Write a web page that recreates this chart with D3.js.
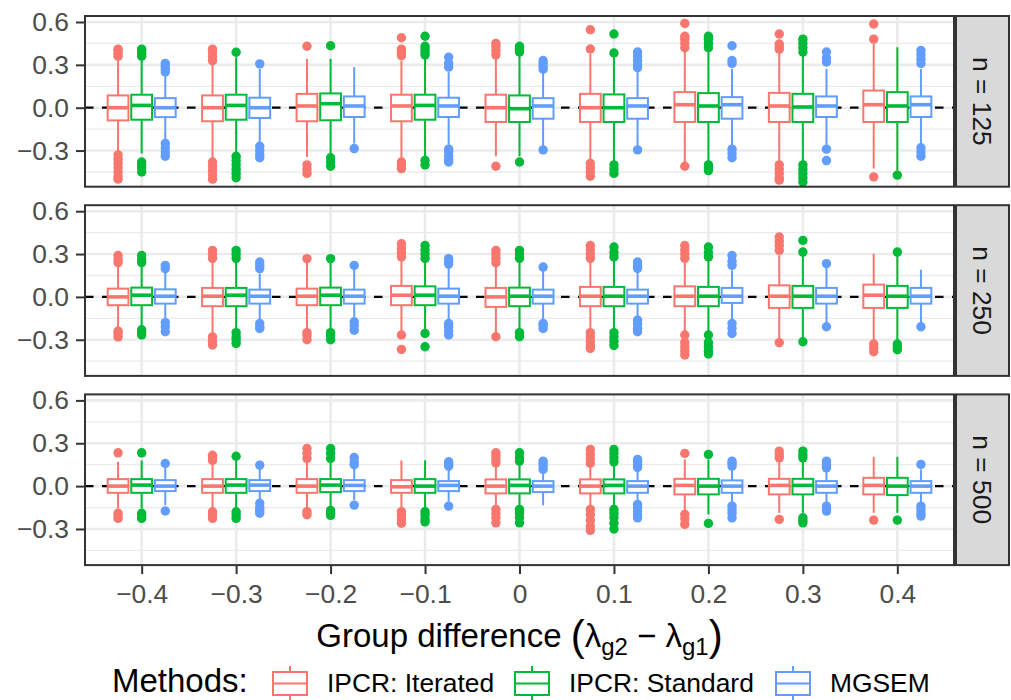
<!DOCTYPE html>
<html>
<head>
<meta charset="utf-8">
<script src="https://cdn.jsdelivr.net/npm/d3@7"></script>
<style>
  html, body { margin: 0; padding: 0; background: #fff; }
  svg { display: block; font-family: "Liberation Sans", Arial, sans-serif; }
</style>
</head>
<body>
<svg id="chart" width="1011" height="700"></svg>
<script>
// ---------------- DATA ----------------
const categories = ["\u22120.4", "\u22120.3", "\u22120.2", "\u22120.1", "0", "0.1", "0.2", "0.3", "0.4"];
const methods = ["IPCR: Iterated", "IPCR: Standard", "MGSEM"];
const panelLabels = ["n = 125", "n = 250", "n = 500"];
const yTicks = [-0.3, 0, 0.3, 0.6];
const yTickLabels = ["\u22120.3", "0.0", "0.3", "0.6"];
const yMinorTicks = [-0.45, -0.15, 0.15, 0.45];

// box stats per category: [lower whisker, q1, median, q3, upper whisker]
// ---- n = 125 ----
const n125_iter = [
  [-0.31, -0.089, 0, 0.086, 0.34], [-0.356, -0.095, 0, 0.086, 0.307], [-0.345, -0.095, 0.012, 0.097, 0.342],
  [-0.356, -0.095, 0.012, 0.091, 0.33], [-0.34, -0.1, 0, 0.091, 0.353], [-0.379, -0.1, 0, 0.097, 0.376],
  [-0.38, -0.1, 0.021, 0.109, 0.411], [-0.379, -0.1, 0.012, 0.104, 0.388], [-0.426, -0.1, 0.021, 0.12, 0.446]];
const n125_iter_out = [
  [0.36, 0.38, 0.40, 0.41, -0.33, -0.36, -0.39, -0.42, -0.45, -0.48, -0.50],
  [0.33, 0.36, 0.39, 0.41, -0.38, -0.41, -0.44, -0.47, -0.50],
  [0.43, -0.40, -0.43, -0.46],
  [0.49, 0.365, 0.39, 0.41, -0.38, -0.40, -0.426],
  [0.37, 0.40, 0.43, 0.45, -0.41],
  [0.546, 0.411, -0.39, -0.42, -0.45, -0.48],
  [0.59, 0.42, 0.45, 0.48, 0.50, -0.41],
  [0.516, 0.41, 0.43, 0.446, -0.40, -0.43, -0.46, -0.49, -0.507],
  [0.586, 0.48, -0.484]];
const n125_std = [
  [-0.32, -0.084, 0.016, 0.091, 0.34], [-0.32, -0.084, 0.016, 0.091, 0.353], [-0.32, -0.088, 0.028, 0.1, 0.342],
  [-0.34, -0.084, 0.016, 0.091, 0.353], [-0.34, -0.1, -0.007, 0.086, 0.365], [-0.379, -0.1, 0, 0.093, 0.353],
  [-0.38, -0.1, 0.012, 0.102, 0.388], [-0.38, -0.1, 0.005, 0.097, 0.365], [-0.44, -0.1, 0.012, 0.109, 0.423]];
const n125_std_out = [
  [0.36, 0.38, 0.40, 0.41, -0.38, -0.40, -0.42, -0.45],
  [0.388, -0.34, -0.37, -0.40, -0.43, -0.46, -0.49],
  [0.434, -0.35, -0.38, -0.41],
  [0.50, 0.37, 0.39, 0.41, 0.43, -0.37, -0.40],
  [0.39, 0.41, 0.43, -0.38],
  [0.516, 0.383, -0.40, -0.43, -0.46],
  [0.42, 0.45, 0.48, 0.50, -0.40, -0.42, -0.44],
  [0.39, 0.42, 0.45, 0.48, -0.40, -0.43, -0.46, -0.49, -0.52],
  [-0.472]];
const n125_mg = [
  [-0.23, -0.066, 0, 0.067, 0.225], [-0.251, -0.072, 0, 0.07, 0.272], [-0.251, -0.065, 0.012, 0.079, 0.284],
  [-0.26, -0.065, 0.012, 0.07, 0.249], [-0.27, -0.077, 0.012, 0.067, 0.249], [-0.27, -0.077, 0.012, 0.067, 0.249],
  [-0.26, -0.077, 0.021, 0.074, 0.272], [-0.26, -0.065, 0.012, 0.079, 0.272], [-0.26, -0.065, 0.021, 0.079, 0.272]];
const n125_mg_out = [
  [0.25, 0.27, 0.29, 0.31, -0.25, -0.28, -0.31, -0.34],
  [0.307, -0.27, -0.30, -0.33, -0.35],
  [-0.286],
  [0.284, 0.31, 0.353, -0.29, -0.31, -0.34, -0.36, -0.38],
  [0.27, 0.29, 0.31, 0.33, -0.295],
  [0.28, 0.30, 0.33, 0.36, 0.39, -0.295],
  [0.434, 0.31, 0.33, -0.29, -0.32, -0.35],
  [0.32, 0.35, 0.39, -0.29, -0.37],
  [0.31, 0.34, 0.37, 0.40, -0.28, -0.31, -0.34]];

// ---- n = 250 ----
const n250_iter = [
  [-0.22, -0.058, 0, 0.058, 0.221], [-0.256, -0.065, 0.005, 0.063, 0.244], [-0.233, -0.058, 0.005, 0.058, 0.244],
  [-0.244, -0.058, 0.012, 0.077, 0.256], [-0.256, -0.07, 0, 0.063, 0.221], [-0.233, -0.065, 0.005, 0.07, 0.256],
  [-0.244, -0.065, 0.005, 0.074, 0.256], [-0.291, -0.077, 0.005, 0.081, 0.291], [-0.302, -0.077, 0.012, 0.086, 0.302]];
const n250_iter_out = [
  [0.24, 0.26, 0.29, -0.24, -0.26, -0.28],
  [0.27, 0.30, 0.326, -0.28, -0.31, -0.337],
  [0.268, -0.25, -0.27, -0.30],
  [0.28, 0.31, 0.34, 0.372, -0.267, -0.367],
  [0.24, 0.27, 0.30, 0.326, -0.279],
  [0.27, 0.30, 0.33, 0.36, -0.25, -0.28, -0.31, -0.34, -0.36],
  [0.27, 0.30, 0.33, 0.36, -0.267, -0.32, -0.35, -0.38, -0.407],
  [0.326, 0.36, 0.39, 0.419, -0.32],
  [-0.33, -0.36, -0.384]];
const n250_std = [
  [-0.209, -0.058, 0.012, 0.065, 0.221], [-0.233, -0.065, 0.012, 0.063, 0.244], [-0.233, -0.058, 0.012, 0.065, 0.244],
  [-0.233, -0.058, 0.012, 0.074, 0.256], [-0.233, -0.065, 0.005, 0.065, 0.244], [-0.233, -0.065, 0.005, 0.07, 0.256],
  [-0.244, -0.065, 0.005, 0.07, 0.256], [-0.291, -0.077, 0.005, 0.077, 0.291], [-0.314, -0.077, 0.005, 0.077, 0.291]];
const n250_std_out = [
  [0.24, 0.26, 0.29, -0.23, -0.25, -0.267],
  [0.27, 0.30, 0.326, -0.25, -0.28, -0.30, -0.326],
  [0.268, -0.25, -0.27, -0.30],
  [0.27, 0.30, 0.33, 0.36, -0.256, -0.349],
  [0.27, 0.30, 0.326, -0.25, -0.279],
  [0.28, 0.31, 0.349, -0.25, -0.28, -0.31, -0.34],
  [0.28, 0.31, 0.349, -0.267, -0.32, -0.35, -0.38, -0.40],
  [0.314, 0.396, -0.314],
  [0.314, -0.33, -0.35, -0.37]];
const n250_mg = [
  [-0.163, -0.047, 0.005, 0.053, 0.186], [-0.163, -0.047, 0.005, 0.051, 0.163], [-0.14, -0.047, 0.005, 0.051, 0.198],
  [-0.174, -0.047, 0.005, 0.058, 0.209], [-0.163, -0.047, 0.005, 0.051, 0.186], [-0.151, -0.047, 0.005, 0.051, 0.186],
  [-0.163, -0.042, 0.005, 0.063, 0.186], [-0.186, -0.047, 0.005, 0.063, 0.209], [-0.186, -0.047, 0.005, 0.063, 0.19]];
const n250_mg_out = [
  [0.198, 0.221, -0.18, -0.21, -0.244],
  [0.198, 0.221, 0.244, -0.186, -0.21, -0.221],
  [0.221, -0.174, -0.20, -0.233],
  [0.23, 0.25, 0.268, -0.186, -0.21, -0.24, -0.267],
  [0.209, -0.186, -0.20, -0.221],
  [0.20, 0.22, 0.244, -0.163, -0.19, -0.22, -0.244],
  [0.221, 0.25, 0.29, -0.186, -0.22, -0.256],
  [0.233, -0.209],
  [-0.209]];

// ---- n = 500 ----
const n500_iter = [
  [-0.156, -0.047, 0, 0.049, 0.17], [-0.156, -0.047, 0, 0.049, 0.17], [-0.156, -0.047, 0, 0.049, 0.17],
  [-0.156, -0.047, -0.005, 0.042, 0.18], [-0.152, -0.051, 0, 0.047, 0.14], [-0.152, -0.051, 0, 0.047, 0.14],
  [-0.175, -0.058, 0.005, 0.051, 0.187], [-0.187, -0.058, 0.005, 0.051, 0.175], [-0.187, -0.058, 0.005, 0.058, 0.205]];
const n500_iter_out = [
  [0.233, -0.19, -0.21, -0.226],
  [0.18, 0.20, 0.216, -0.18, -0.20, -0.226],
  [0.193, 0.23, 0.263, -0.179, -0.20],
  [-0.179, -0.20, -0.23, -0.26],
  [0.163, 0.19, 0.21, 0.233, -0.163, -0.19, -0.22, -0.257],
  [0.16, 0.19, 0.22, 0.257, -0.163, -0.20, -0.24, -0.28, -0.31],
  [0.229, -0.198, -0.23, -0.268],
  [0.198, 0.22, 0.245, -0.233],
  [-0.238]];
const n500_std = [
  [-0.156, -0.047, 0.007, 0.049, 0.18], [-0.156, -0.047, 0.007, 0.049, 0.18], [-0.156, -0.042, 0.007, 0.049, 0.18],
  [-0.156, -0.047, 0, 0.049, 0.18], [-0.152, -0.051, 0.005, 0.047, 0.152], [-0.152, -0.051, 0.005, 0.047, 0.152],
  [-0.198, -0.058, 0, 0.051, 0.187], [-0.187, -0.058, 0.005, 0.051, 0.175], [-0.187, -0.063, 0, 0.058, 0.205]];
const n500_std_out = [
  [0.233, -0.19, -0.21, -0.226],
  [0.209, -0.18, -0.20, -0.226],
  [0.193, 0.23, 0.263, -0.17, -0.19, -0.205],
  [-0.179, -0.20, -0.23, -0.25],
  [0.175, 0.20, 0.233, -0.163, -0.19, -0.22, -0.257],
  [0.17, 0.20, 0.23, 0.257, -0.163, -0.19, -0.22, -0.26, -0.30],
  [0.222, -0.261],
  [0.198, 0.22, 0.245, -0.222, -0.24, -0.257],
  [-0.238]];
const n500_mg = [
  [-0.133, -0.035, 0, 0.042, 0.135], [-0.109, -0.035, 0.007, 0.042, 0.123], [-0.098, -0.035, 0.005, 0.042, 0.135],
  [-0.109, -0.035, 0.005, 0.035, 0.123], [-0.135, -0.042, 0, 0.035, 0.105], [-0.117, -0.047, 0, 0.035, 0.117],
  [-0.117, -0.047, 0, 0.04, 0.128], [-0.117, -0.047, 0, 0.035, 0.117], [-0.117, -0.047, 0, 0.035, 0.117]];
const n500_mg_out = [
  [0.158, -0.174],
  [0.147, -0.12, -0.15, -0.17, -0.19],
  [0.15, 0.17, 0.2, -0.133],
  [0.14, 0.155, 0.17, -0.14],
  [0.117, 0.14, 0.16, 0.175],
  [0.13, 0.15, 0.17, 0.187, -0.128, -0.15, -0.175, -0.2, -0.222],
  [0.14, 0.16, 0.175, -0.14, -0.165, -0.19, -0.222],
  [0.128, 0.15, 0.175, -0.14, -0.16, -0.175],
  [0.152, -0.14, -0.165, -0.19, -0.21]];

// ---------------- LAYOUT ----------------
const colors = ["#F8766D", "#00BA38", "#619CFF"];
const panelX0 = 85, panelX1 = 954;
const panelTops = [16, 205.2, 394.4];
const panelH = 170.7;
const stripX0 = 956, stripX1 = 1009;
const smallFont = 26.4, bigFont = 33;

const panels = [
  { stats: [n125_iter, n125_std, n125_mg], outs: [n125_iter_out, n125_std_out, n125_mg_out] },
  { stats: [n250_iter, n250_std, n250_mg], outs: [n250_iter_out, n250_std_out, n250_mg_out] },
  { stats: [n500_iter, n500_std, n500_mg], outs: [n500_iter_out, n500_std_out, n500_mg_out] }
];

const svg = d3.select("#chart");
const x = d3.scalePoint().domain(categories).range([panelX0, panelX1]).padding(0.6);
const step = x.step();
const dodge = step * 0.75 / 3;
const boxW = dodge * 0.88;
const y = d3.scaleLinear().domain([-0.553, 0.642]).range([panelH, 0]);

panels.forEach((p, pi) => {
  const g = svg.append("g").attr("transform", `translate(0,${panelTops[pi]})`);
  g.append("rect").attr("x", panelX0).attr("y", 0).attr("width", panelX1 - panelX0).attr("height", panelH).attr("fill", "#fff");
  // minor grid
  g.selectAll(".minor").data(yMinorTicks).join("line")
    .attr("x1", panelX0).attr("x2", panelX1).attr("y1", d => y(d)).attr("y2", d => y(d))
    .attr("stroke", "#EBEBEB").attr("stroke-width", 1.3);
  // major grid
  g.selectAll(".majorY").data(yTicks).join("line")
    .attr("x1", panelX0).attr("x2", panelX1).attr("y1", d => y(d)).attr("y2", d => y(d))
    .attr("stroke", "#EBEBEB").attr("stroke-width", 2.6);
  g.selectAll(".majorX").data(categories).join("line")
    .attr("x1", d => x(d)).attr("x2", d => x(d)).attr("y1", 0).attr("y2", panelH)
    .attr("stroke", "#EBEBEB").attr("stroke-width", 2.6);
  // dashed zero reference line
  g.append("line").attr("x1", panelX0).attr("x2", panelX1).attr("y1", y(0)).attr("y2", y(0))
    .attr("stroke", "#000").attr("stroke-width", 2.2).attr("stroke-dasharray", "8.5,8.5");

  // boxes
  methods.forEach((m, mi) => {
    const mg = g.append("g");
    const stats = p.stats[mi];
    const outs = p.outs[mi];
    const cx = (c) => x(c) + (mi - 1) * dodge;
    const rows = categories.map((c, ci) => ({ c, s: stats[ci], o: outs[ci] }));
    // whiskers
    mg.selectAll(".wh").data(rows).join("line")
      .attr("x1", d => cx(d.c)).attr("x2", d => cx(d.c))
      .attr("y1", d => y(d.s[4])).attr("y2", d => y(d.s[3]))
      .attr("stroke", colors[mi]).attr("stroke-width", 2);
    mg.selectAll(".wl").data(rows).join("line")
      .attr("x1", d => cx(d.c)).attr("x2", d => cx(d.c))
      .attr("y1", d => y(d.s[1])).attr("y2", d => y(d.s[0]))
      .attr("stroke", colors[mi]).attr("stroke-width", 2);
    // box
    mg.selectAll(".bx").data(rows).join("rect")
      .attr("x", d => cx(d.c) - boxW / 2).attr("width", boxW)
      .attr("y", d => y(d.s[3])).attr("height", d => y(d.s[1]) - y(d.s[3]))
      .attr("fill", "#fff").attr("stroke", colors[mi]).attr("stroke-width", 2);
    // median
    mg.selectAll(".md").data(rows).join("line")
      .attr("x1", d => cx(d.c) - boxW / 2).attr("x2", d => cx(d.c) + boxW / 2)
      .attr("y1", d => y(d.s[2])).attr("y2", d => y(d.s[2]))
      .attr("stroke", colors[mi]).attr("stroke-width", 3.6);
    // outliers
    const pts = [];
    rows.forEach(r => r.o.forEach(v => pts.push({ c: r.c, v })));
    mg.selectAll(".pt").data(pts).join("circle")
      .attr("cx", d => cx(d.c)).attr("cy", d => y(d.v)).attr("r", 4.7)
      .attr("fill", colors[mi]);
  });

  // panel border
  g.append("rect").attr("x", panelX0).attr("y", 0).attr("width", panelX1 - panelX0).attr("height", panelH)
    .attr("fill", "none").attr("stroke", "#333333").attr("stroke-width", 2);

  // strip
  g.append("rect").attr("x", stripX0).attr("y", 0).attr("width", stripX1 - stripX0).attr("height", panelH)
    .attr("fill", "#D9D9D9").attr("stroke", "#333333").attr("stroke-width", 2);
  const sx = (stripX0 + stripX1) / 2, sy = panelH / 2;
  g.append("text").attr("transform", `translate(${sx},${sy}) rotate(90)`)
    .attr("text-anchor", "middle").attr("dy", "0.35em")
    .attr("font-size", smallFont).attr("fill", "#1A1A1A").text(panelLabels[pi]);

  // y axis
  const ya = g.append("g").attr("transform", `translate(${panelX0 - 1},0)`)
    .call(d3.axisLeft(y).tickValues(yTicks).tickFormat((d, i) => yTickLabels[i]).tickSize(8).tickPadding(7));
  ya.select(".domain").remove();
  ya.selectAll(".tick line").attr("stroke", "#333333").attr("stroke-width", 2);
  ya.selectAll(".tick text").attr("font-size", smallFont).attr("fill", "#4D4D4D")
    .attr("font-family", "Liberation Sans, Arial, sans-serif");

  if (pi === panels.length - 1) {
    const xa = g.append("g").attr("transform", `translate(0,${panelH + 1})`)
      .call(d3.axisBottom(x).tickSize(8).tickPadding(10));
    xa.select(".domain").remove();
    xa.selectAll(".tick line").attr("stroke", "#333333").attr("stroke-width", 2);
    xa.selectAll(".tick text").attr("font-size", smallFont).attr("fill", "#4D4D4D")
      .attr("font-family", "Liberation Sans, Arial, sans-serif");
  }
});

// x axis title
const title = svg.append("text").attr("x", (panelX0 + panelX1) / 2).attr("y", 647)
  .attr("text-anchor", "middle").attr("font-size", bigFont).attr("fill", "#000");
title.append("tspan").text("Group difference ");
title.append("tspan").attr("font-size", 42).attr("dy", 3).text("(");
title.append("tspan").attr("dy", -3).text("\u03BB");
title.append("tspan").attr("font-size", 24).attr("dy", 8).text("g2");
title.append("tspan").attr("dy", -8).text(" \u2212 ");
title.append("tspan").text("\u03BB");
title.append("tspan").attr("font-size", 24).attr("dy", 8).text("g1");
title.append("tspan").attr("font-size", 42).attr("dy", -5).text(")");

// legend
svg.append("text").attr("x", 112).attr("y", 692).attr("font-size", bigFont).attr("fill", "#000").text("Methods:");
const keyLefts = [273, 515, 776];
const keyW = 34;
methods.forEach((m, mi) => {
  const kx = keyLefts[mi], c = colors[mi];
  const k = svg.append("g");
  k.append("line").attr("x1", kx + keyW / 2).attr("x2", kx + keyW / 2).attr("y1", 666).attr("y2", 706)
    .attr("stroke", c).attr("stroke-width", 2);
  k.append("rect").attr("x", kx).attr("y", 672).attr("width", keyW).attr("height", 23)
    .attr("fill", "#fff").attr("stroke", c).attr("stroke-width", 2);
  k.append("line").attr("x1", kx).attr("x2", kx + keyW).attr("y1", 683.5).attr("y2", 683.5)
    .attr("stroke", c).attr("stroke-width", 2);
  svg.append("text").attr("x", kx + 54).attr("y", 692).attr("font-size", smallFont).attr("fill", "#000").text(m);
});
</script>
</body>
</html>
